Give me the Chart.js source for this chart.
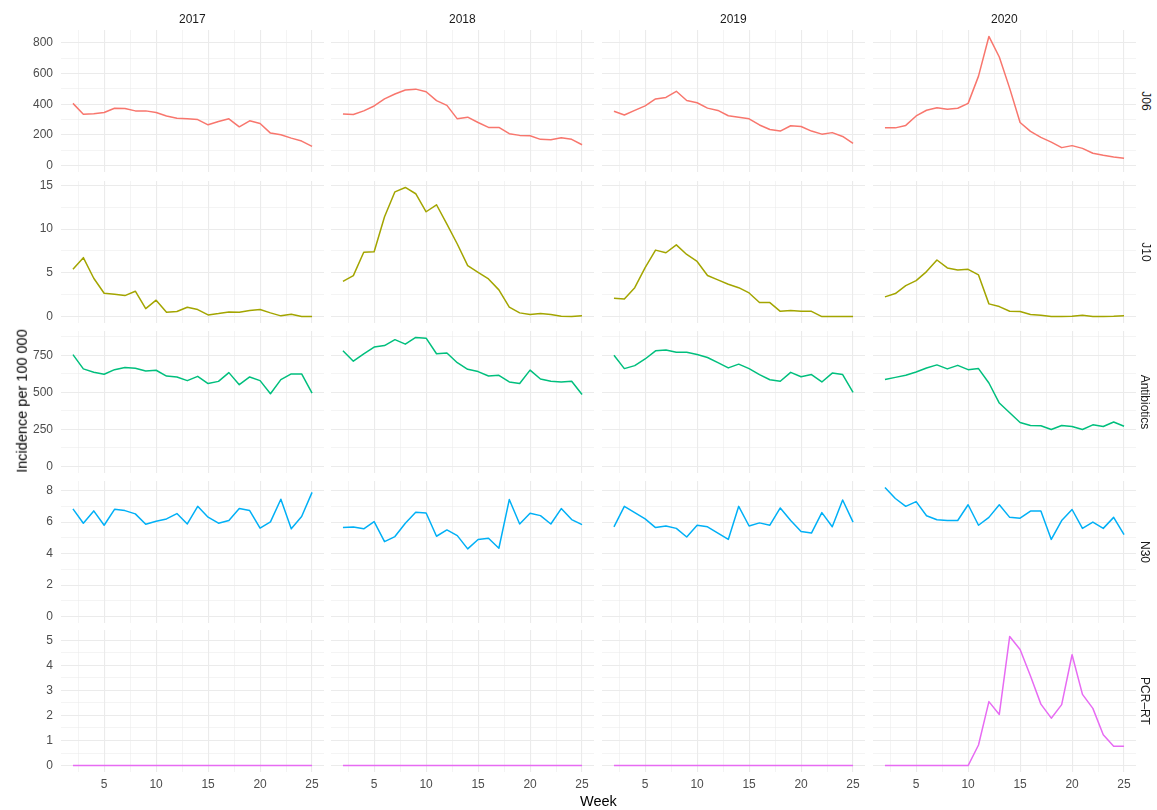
<!DOCTYPE html>
<html>
<head>
<meta charset="utf-8">
<script src="https://cdn.jsdelivr.net/npm/chart.js@4.4.1/dist/chart.umd.min.js"></script>
<style>
  html, body { margin: 0; padding: 0; background: #fff; }
  body { width: 1157px; height: 810px; position: relative; overflow: hidden; font-family: "Liberation Sans", Arial, sans-serif; }
  .cv { position: absolute; }
  .strip { position: absolute; font-size: 12px; color: #1a1a1a; white-space: nowrap; line-height: 14px; }
  .title { position: absolute; font-size: 14.5px; color: #000; white-space: nowrap; line-height: 16px; }
</style>
</head>
<body>
<script>
// weeks and facets
const weeks = [2,3,4,5,6,7,8,9,10,11,12,13,14,15,16,17,18,19,20,21,22,23,24,25];
const years = ['2017','2018','2019','2020'];
const indicators = ['J06','J10','Antibiotics','N30','PCR\u2013RT'];
const colors = ['#F8766D','#A3A500','#00BF7D','#00B0F6','#E76BF3'];

// J06
const j06_2017 = [406,335,339,346,374,372,357,357,346,324,309,305,300,266,288,305,253,292,275,212,201,179,160,125];
const j06_2018 = [337,333,357,389,435,467,493,499,482,424,393,305,316,281,249,249,208,197,195,171,169,182,171,136];
const j06_2019 = [355,330,360,390,435,445,485,425,410,375,360,325,315,305,265,235,225,260,255,225,205,215,190,145];
const j06_2020 = [246,246,262,324,361,378,368,374,406,584,843,709,504,281,223,184,153,117,130,112,80,67,56,48];

// J10
const j10_2017 = [5.4,6.74,4.38,2.66,2.55,2.4,2.9,0.91,1.87,0.49,0.57,1.07,0.8,0.19,0.34,0.53,0.49,0.69,0.8,0.42,0.08,0.27,0,0];
const j10_2018 = [4.03,4.68,7.35,7.42,11.42,14.27,14.77,14.05,11.99,12.79,10.58,8.3,5.82,5.06,4.3,3.05,1.07,0.42,0.23,0.34,0.23,0.04,0,0.08];
const j10_2019 = [2.1,2.0,3.3,5.6,7.6,7.3,8.2,7.1,6.3,4.7,4.2,3.7,3.3,2.7,1.6,1.6,0.6,0.7,0.6,0.6,0,0,0,0];
const j10_2020 = [2.25,2.63,3.54,4.11,5.14,6.47,5.56,5.33,5.4,4.76,1.45,1.14,0.61,0.57,0.23,0.15,0,0,0.04,0.15,0,0,0.02,0.08];

// Antibiotics
const abx_2017 = [754,658,635,622,653,667,662,644,649,610,604,579,608,559,574,633,552,604,579,491,586,624,624,495];
const abx_2018 = [780,710,760,805,815,855,825,870,865,760,765,700,655,640,610,615,570,560,650,590,575,570,575,485];
const abx_2019 = [750,660,680,725,780,785,770,770,755,735,700,665,690,660,620,585,575,635,605,620,570,630,620,500];
const abx_2020 = [586,601,615,637,664,685,658,682,653,660,563,428,363,297,277,275,250,277,270,250,281,270,300,272];

// N30
const n30_2017 = [6.84,5.93,6.71,5.8,6.81,6.73,6.52,5.86,6.05,6.2,6.54,5.88,7.0,6.31,5.93,6.1,6.86,6.73,5.61,6.01,7.45,5.57,6.35,7.89];
const n30_2018 = [5.65,5.69,5.57,6.03,4.76,5.08,5.93,6.62,6.58,5.1,5.5,5.14,4.3,4.89,4.97,4.34,7.43,5.88,6.56,6.41,5.88,6.86,6.16,5.84];
const n30_2019 = [5.7,7.0,6.6,6.2,5.65,5.75,5.6,5.05,5.8,5.7,5.3,4.9,7.0,5.75,5.95,5.8,6.9,6.1,5.4,5.3,6.6,5.7,7.4,6.0];
const n30_2020 = [8.2,7.5,7.0,7.3,6.4,6.15,6.1,6.1,7.1,5.8,6.3,7.1,6.3,6.25,6.7,6.7,4.9,6.1,6.8,5.6,6.0,5.6,6.3,5.2];

// PCR-RT
const pcr_2017 = [0,0,0,0,0,0,0,0,0,0,0,0,0,0,0,0,0,0,0,0,0,0,0,0];
const pcr_2018 = [0,0,0,0,0,0,0,0,0,0,0,0,0,0,0,0,0,0,0,0,0,0,0,0];
const pcr_2019 = [0,0,0,0,0,0,0,0,0,0,0,0,0,0,0,0,0,0,0,0,0,0,0,0];
const pcr_2020 = [0,0,0,0,0,0,0,0,0,0.82,2.55,2.04,5.15,4.63,3.57,2.45,1.89,2.43,4.42,2.84,2.28,1.23,0.77,0.77];

const rows = [
  [j06_2017, j06_2018, j06_2019, j06_2020],
  [j10_2017, j10_2018, j10_2019, j10_2020],
  [abx_2017, abx_2018, abx_2019, abx_2020],
  [n30_2017, n30_2018, n30_2019, n30_2020],
  [pcr_2017, pcr_2018, pcr_2019, pcr_2020]
];

// tick breaks
const xMajor = [5,10,15,20,25];
const xMinor = [2.5,7.5,12.5,17.5,22.5];
const yMajor = [[0,200,400,600,800],[0,5,10,15],[0,250,500,750],[0,2,4,6,8],[0,1,2,3,4,5]];
const yMinor = [[100,300,500,700],[2.5,7.5,12.5],[125,375,625,875],[1,3,5,7],[0.5,1.5,2.5,3.5,4.5]];

// panel geometry
const panelL = [61, 331, 602, 873];
const panelT = [30, 181, 331, 481, 630];
const panelW = 263, panelH = 142;
const yAxisW = 61, xAxisH = 32, pad = 18;

function addDiv(cls, text, css) {
  const d = document.createElement('div');
  d.className = cls;
  d.textContent = text;
  Object.assign(d.style, css);
  document.body.appendChild(d);
  return d;
}

function makePanel(r, c) {
  const data = rows[r][c];
  const isLeft = c === 0, isBottom = r === rows.length - 1;
  const allVals = rows[r].flat();
  const lo = Math.min(0, Math.min(...allVals)), hi = Math.max(...allVals);
  const yPad = (hi - lo) * 0.05;
  const xPad = (weeks[weeks.length - 1] - weeks[0]) * 0.05;

  const cw = panelW + (isLeft ? yAxisW : 0);
  const ch = panelH + pad + (isBottom ? xAxisH : pad);
  const cv = document.createElement('canvas');
  cv.className = 'cv';
  cv.width = cw; cv.height = ch;
  cv.style.left = (panelL[c] - (isLeft ? yAxisW : 0)) + 'px';
  cv.style.top = (panelT[r] - pad) + 'px';
  cv.style.width = cw + 'px'; cv.style.height = ch + 'px';
  document.body.appendChild(cv);

  const xs = xMinor.concat(xMajor).sort((a, b) => a - b);
  const ys = yMinor[r].concat(yMajor[r]).sort((a, b) => a - b);

  new Chart(cv.getContext('2d'), {
    type: 'line',
    data: {
      datasets: [{
        data: weeks.map((w, i) => ({ x: w, y: data[i] })),
        borderColor: colors[r], borderWidth: 1.5, pointRadius: 0,
        tension: 0, borderJoinStyle: 'round', fill: false
      }]
    },
    options: {
      responsive: false, animation: false, devicePixelRatio: 1,
      layout: { autoPadding: false, padding: { top: pad, bottom: isBottom ? 0 : pad, left: 0, right: 0 } },
      plugins: { legend: { display: false }, tooltip: { enabled: false } },
      scales: {
        x: {
          type: 'linear',
          min: weeks[0] - xPad, max: weeks[weeks.length - 1] + xPad,
          afterBuildTicks: s => { s.ticks = xs.map(v => ({ value: v })); },
          afterFit: s => { s.height = isBottom ? xAxisH : 0; },
          grid: {
            color: '#ebebeb', drawTicks: false,
            lineWidth: ctx => (ctx.tick && xMajor.includes(ctx.tick.value)) ? 1.1 : 0.55
          },
          border: { display: false },
          ticks: {
            display: isBottom, autoSkip: false, maxRotation: 0, padding: 5,
            color: '#4d4d4d', font: { family: '"Liberation Sans", Arial, sans-serif', size: 12 },
            callback: v => xMajor.includes(v) ? String(v) : ''
          }
        },
        y: {
          type: 'linear',
          min: lo - yPad, max: hi + yPad,
          afterBuildTicks: s => { s.ticks = ys.map(v => ({ value: v })); },
          afterFit: s => { s.width = isLeft ? yAxisW : 0; },
          grid: {
            color: '#ebebeb', drawTicks: false,
            lineWidth: ctx => (ctx.tick && yMajor[r].includes(ctx.tick.value)) ? 1.1 : 0.55
          },
          border: { display: false },
          ticks: {
            display: isLeft, autoSkip: false, padding: 8,
            color: '#4d4d4d', font: { family: '"Liberation Sans", Arial, sans-serif', size: 12 },
            callback: v => yMajor[r].includes(v) ? String(v) : ''
          }
        }
      }
    }
  });
}

for (let r = 0; r < rows.length; r++) {
  for (let c = 0; c < years.length; c++) makePanel(r, c);
}

// facet strips
years.forEach((y, c) => {
  const d = addDiv('strip', y, { top: '12px' });
  d.style.left = (panelL[c] + panelW / 2 - d.offsetWidth / 2) + 'px';
});
indicators.forEach((name, r) => {
  const d = addDiv('strip', name, {});
  const w = d.offsetWidth, h = d.offsetHeight;
  d.style.left = (1145 - w / 2) + 'px';
  d.style.top = (panelT[r] + panelH / 2 - h / 2) + 'px';
  d.style.transform = 'rotate(90deg)';
});

// axis titles
const xt = addDiv('title', 'Week', { top: '793px' });
xt.style.left = ((panelL[0] + panelL[3] + panelW) / 2 - xt.offsetWidth / 2) + 'px';
const yt = addDiv('title', 'Incidence per 100 000', {});
yt.style.left = (22 - yt.offsetWidth / 2) + 'px';
yt.style.top = ((panelT[0] + panelT[4] + panelH) / 2 - yt.offsetHeight / 2) + 'px';
yt.style.transform = 'rotate(-90deg)';
</script>
</body>
</html>
